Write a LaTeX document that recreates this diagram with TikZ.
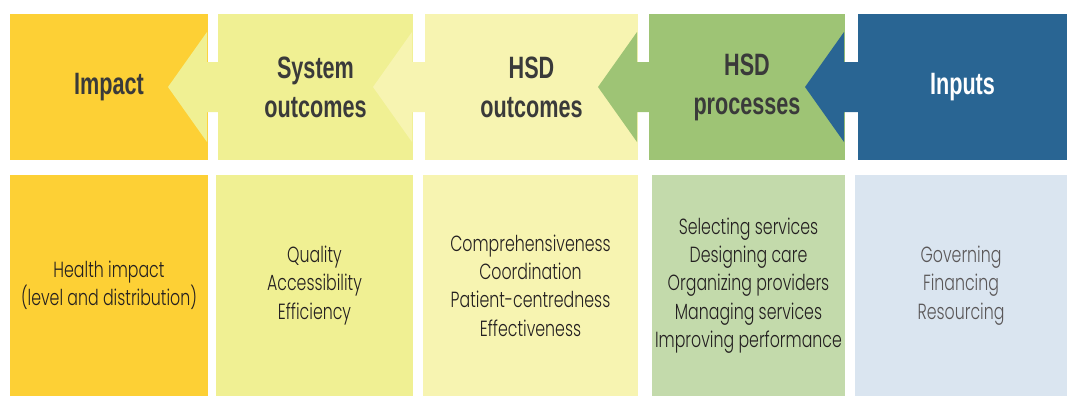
\documentclass[tikz,border=0pt]{standalone}
\usepackage{fontspec}
\usepackage{xcolor}
\usepackage{tikz}
\usetikzlibrary{shapes, calc, positioning}
\newfontfamily\headfont[FakeStretch=0.7]{Liberation Sans}
\newfontfamily\bodyfont[FakeStretch=0.72, UprightFont={* Light}]{Poppins}
\definecolor{impactC}{HTML}{FDD035}
\definecolor{systemC}{HTML}{F0F093}
\definecolor{outcomeC}{HTML}{F7F4B1}
\definecolor{processC}{HTML}{9EC475}
\definecolor{processL}{HTML}{C3DAAB}
\definecolor{inputC}{HTML}{296593}
\definecolor{inputL}{HTML}{DAE5F0}
\definecolor{labelC}{HTML}{3A3A3A}
\definecolor{listC}{HTML}{231F20}
\tikzstyle{headbox} = [rectangle, inner sep=0pt, outer sep=0pt,
    minimum height=146bp, align=center, text=labelC,
    font=\headfont\bfseries\fontsize{31}{39}\selectfont]
\tikzstyle{listbox} = [rectangle, inner sep=0pt, outer sep=0pt,
    minimum height=221bp, align=center, text=listC,
    font=\bodyfont\fontsize{22}{28.5}\selectfont]

\begin{document}
\begin{tikzpicture}[x=1bp, y=1bp]
    \useasboundingbox (0,0) rectangle (1067,396);
    % Heads
    \node [headbox, fill=impactC, minimum width=198bp, anchor=north west] (impact) at (10,382) {Impact};
    \node [headbox, fill=systemC, minimum width=195bp, right=10bp of impact] (system) {System\\outcomes};
    \node [headbox, fill=outcomeC, minimum width=213bp, right=12bp of system] (outcome) {HSD\\outcomes};
    \node [headbox, fill=processC, minimum width=196bp, right=11bp of outcome] (process) {HSD\\processes};
    \node [headbox, fill=inputC, text=white, minimum width=209bp, right=13bp of process] (input) {Inputs};

    % Lists
    \node [listbox, fill=impactC, minimum width=198bp, below=15bp of impact] (impactList) {Health impact\\(level and distribution)};
    \node [listbox, fill=systemC, minimum width=197bp, right=8bp of impactList] (systemList) {Quality\\Accessibility\\Efficiency};
    \node [listbox, fill=outcomeC, minimum width=215bp, right=10bp of systemList] (outcomeList) {Comprehensiveness\\Coordination\\Patient-centredness\\Effectiveness};
    \node [listbox, fill=processL, minimum width=193bp, right=14bp of outcomeList] (processList) {Selecting services\\Designing care\\Organizing providers\\Managing services\\Improving performance};
    \node [listbox, fill=inputL, text=listC!75, minimum width=212bp, right=10bp of processList] (inputList) {Governing\\Financing\\Resourcing};

    % Arrows
    \fill [systemC] ($(impact.east)+(-40,0)$) -- ++(39,55) -- ++(0,-30) -- ++(16,0) --
          ++(0,-50) -- ++(-16,0) -- ++(0,-30) -- cycle;
    \fill [outcomeC] ($(system.east)+(-40,0)$) -- ++(39,55) -- ++(0,-30) -- ++(16,0) --
          ++(0,-50) -- ++(-16,0) -- ++(0,-30) -- cycle;
    \fill [processC] ($(outcome.east)+(-40,0)$) -- ++(39,55) -- ++(0,-30) -- ++(16,0) --
          ++(0,-50) -- ++(-16,0) -- ++(0,-30) -- cycle;
    \fill [inputC] ($(process.east)+(-40,0)$) -- ++(39,55) -- ++(0,-30) -- ++(16,0) --
          ++(0,-50) -- ++(-16,0) -- ++(0,-30) -- cycle;
\end{tikzpicture}
\end{document}
